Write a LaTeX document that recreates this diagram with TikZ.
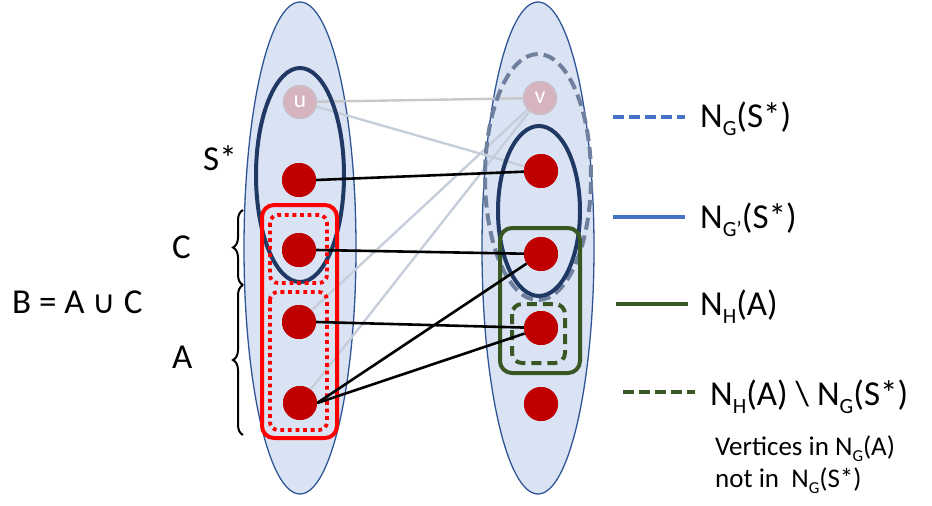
\documentclass[tikz,border=0pt]{standalone}
\usepackage{fontspec}
\setmainfont{Carlito}
\newfontfamily\djv{DejaVu Sans}
\usetikzlibrary{decorations.pathreplacing}
\definecolor{bgfill}{HTML}{DAE3F3}
\definecolor{bgline}{HTML}{2F5597}
\definecolor{navy}{HTML}{203864}
\definecolor{ngdash}{HTML}{6F7F9E}
\definecolor{legblue}{HTML}{4472C4}
\definecolor{vred}{HTML}{C00000}
\definecolor{setred}{HTML}{FF0000}
\definecolor{dgreen}{HTML}{385723}
\definecolor{ufill}{HTML}{D5B3BF}
\definecolor{uline}{HTML}{C9BFC8}
\definecolor{greyedge}{HTML}{C8C8C8}
\definecolor{blueedge}{HTML}{C6CEDB}
\newcommand\sbs[1]{\raisebox{-0.23em}{\scalebox{0.62}{#1}}}
\begin{document}
\begin{tikzpicture}[x=1pt,y=-1pt,
  vtx/.style={circle,fill=vred,minimum size=34pt,inner sep=0pt},
  ghost/.style={circle,fill=ufill,draw=uline,line width=1.2pt,minimum size=33pt,inner sep=0pt,text=white,font=\fontsize{24}{26}\selectfont},
  big/.style={fill=bgfill,draw=bgline,line width=1.3pt},
  lab/.style={font=\fontsize{35}{40}\selectfont,inner sep=0pt,anchor=base west},
  small/.style={font=\fontsize{27}{32}\selectfont,inner sep=0pt,anchor=base west},
  edge/.style={line width=2.6pt,black},
  faint/.style={line width=2.4pt,blueedge},
  navyset/.style={draw=navy,line width=4pt},
  ngset/.style={draw=ngdash,line width=4pt,dash pattern=on 12pt off 6pt},
  redset/.style={draw=setred,line width=4pt,rounded corners=12pt},
  reddot/.style={draw=setred,line width=3.8pt,rounded corners=8pt,dash pattern=on 3.8pt off 3.8pt},
  greenset/.style={draw=dgreen,line width=4pt,rounded corners=12pt},
  greendash/.style={draw=dgreen,line width=4pt,rounded corners=10pt,dash pattern=on 10pt off 6pt},
  bracestyle/.style={decorate,decoration={brace,amplitude=10pt},line width=2pt,black}
]
\useasboundingbox (0,0) rectangle (932,506);
% big sides
\draw[big] (300,248) ellipse [x radius=56pt, y radius=246pt];
\draw[big] (538,248) ellipse [x radius=56pt, y radius=246pt];

% vertices
\node[ghost] (u) at (300,102) {u};
\node[ghost] (v) at (540,98) {v};
\node[vtx] (l1) at (299,180) {};
\node[vtx] (l2) at (299,250) {};
\node[vtx] (l3) at (299,322) {};
\node[vtx] (l4) at (300,403) {};
\node[vtx] (r1) at (541,171) {};
\node[vtx] (r2) at (541,254) {};
\node[vtx] (r3) at (541,328) {};
\node[vtx] (r4) at (541,404) {};

% faint edges
\draw[line width=2.4pt,greyedge] (u) -- (v);
\draw[faint] (u) -- (r1);
\draw[faint] (v) -- (l3);
\draw[faint] (v) -- (l4);

% sets
\draw[navyset] (300,175) ellipse [x radius=44pt, y radius=107pt];
\draw[ngset] (538,177) ellipse [x radius=53pt, y radius=123pt];
\draw[navyset] (539,211) ellipse [x radius=41pt, y radius=85pt];
\draw[redset] (262,205) rectangle (337,438);
\draw[reddot] (270,215) rectangle (327,283);
\draw[reddot] (270,292) rectangle (327,430);
\draw[greenset] (500,228) rectangle (580,373);
\draw[greendash] (512,304) rectangle (565,363);

% edges
\draw[edge] (l1.east) -- (r1);
\draw[edge] (l2.east) -- (r2);
\draw[edge] (l3.east) -- (r3);
\draw[edge] (l4.east) -- (r2);
\draw[edge] (l4.east) -- (r3);

% redraw vertices on top
\node[ghost] at (u) {u};
\node[ghost] at (v) {v};
\foreach \n in {l1,l2,l3,l4,r1,r2,r3,r4} \node[vtx] at (\n) {};

% left labels
\node[lab] (sstar) at (203,170) {S*};
\node[lab] (clab) at (172,258) {C};
\node[lab] (alab) at (172,368) {A};
\node[lab] (blab) at (12,313) {B = A {\djv\fontsize{32}{36}\selectfont ∪} C};
\coordinate (bt) at (243,210);
\coordinate (bm) at (243,285);
\coordinate (bb) at (243,435);
\draw[bracestyle] (bm) -- (bt);
\draw[bracestyle] (bb) -- (bm);

% legend
\coordinate (g1a) at (613,117); \coordinate (g1b) at (685,117);
\coordinate (g2a) at (613,217); \coordinate (g2b) at (685,217);
\coordinate (g3a) at (616,304); \coordinate (g3b) at (688,304);
\coordinate (g4a) at (623,392); \coordinate (g4b) at (695,392);
\draw[legblue,line width=4pt,dash pattern=on 11pt off 5pt] (g1a) -- (g1b);
\draw[legblue,line width=4pt] (g2a) -- (g2b);
\draw[dgreen,line width=4pt] (g3a) -- (g3b);
\draw[dgreen,line width=4pt,dash pattern=on 11pt off 5pt] (g4a) -- (g4b);
\node[lab] (t1) at (700,127) {N\sbs{G}(S*)};
\node[lab] (t2) at (700,228) {N\sbs{G’}(S*)};
\node[lab] (t3) at (700,315) {N\sbs{H}(A)};
\node[lab] (t4) at (710,405) {N\sbs{H}(A) \textbackslash{} N\sbs{G}(S*)};
\node[small] (t5) at (715,455) {Vertices in N\sbs{G}(A)};
\node[small] (t6) at (715,487) {not in\ \ N\sbs{G}(S*)};
\end{tikzpicture}
\end{document}
